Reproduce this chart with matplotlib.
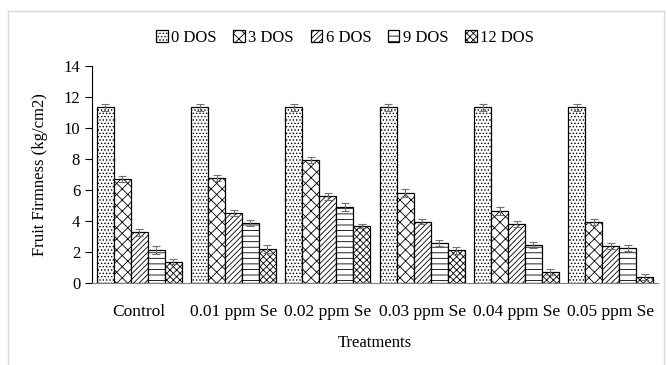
import matplotlib.pyplot as plt
import matplotlib.lines as mlines
import numpy as np

plt.rcParams['font.family'] = ['Liberation Serif', 'DejaVu Serif']
plt.rcParams['hatch.linewidth'] = 0.6

treatments = ['Control', '0.01 ppm Se', '0.02 ppm Se', '0.03 ppm Se', '0.04 ppm Se', '0.05 ppm Se']
series = ['0 DOS', '3 DOS', '6 DOS', '9 DOS', '12 DOS']

firmness = [
    [11.33, 11.33, 11.33, 11.33, 11.33, 11.33],   # 0 DOS
    [6.69, 6.75, 7.96, 5.81, 4.65, 3.92],         # 3 DOS
    [3.27, 4.50, 5.59, 3.96, 3.81, 2.39],         # 6 DOS
    [2.15, 3.89, 4.90, 2.60, 2.47, 2.24],         # 9 DOS
    [1.38, 2.17, 3.68, 2.10, 0.69, 0.37],         # 12 DOS
]
errors = [
    [0.22, 0.22, 0.22, 0.22, 0.22, 0.22],
    [0.20, 0.20, 0.20, 0.25, 0.25, 0.20],
    [0.22, 0.20, 0.22, 0.18, 0.20, 0.18],
    [0.25, 0.20, 0.28, 0.20, 0.18, 0.20],
    [0.18, 0.25, 0.15, 0.20, 0.20, 0.18],
]

hatches = ['.....', 'xxx', '//////', '---', 'xxxxx']

fig = plt.figure(figsize=(6.67, 3.65), dpi=100)
ax = fig.add_axes([92 / 667, 1 - 283 / 365, 566 / 667, 217 / 365])

x = np.arange(len(treatments))
w = 0.18
for i, s in enumerate(series):
    pos = x - 0.36 + i * w
    ax.bar(pos, firmness[i], width=w, color='white', edgecolor='black',
           hatch=hatches[i], linewidth=0.9, label=s)
    ax.errorbar(pos, firmness[i], yerr=errors[i], fmt='none', ecolor='#707070',
                elinewidth=0.8, capsize=3, capthick=0.8)

ax.set_xlim(-0.5, 5.5)
ax.set_ylim(0, 14)
ax.set_yticks(range(0, 15, 2))
ax.set_xticks(x)
ax.set_xticklabels(treatments, fontsize=12.5)
ax.tick_params(axis='x', length=0, pad=15)
ax.tick_params(axis='y', labelsize=12, length=5, direction='out')
ax.spines['top'].set_visible(False)
ax.spines['right'].set_visible(False)
ax.spines['bottom'].set_color('#808080')

ax.set_ylabel('Fruit Firmness (kg/cm2)', fontsize=12, labelpad=11)
ax.set_xlabel('Treatments', fontsize=12, labelpad=11)

ax.legend(loc='lower center', bbox_to_anchor=(0.447, 1.025), ncol=5, frameon=False,
          fontsize=12, handlelength=0.7, handleheight=0.7, handletextpad=0.2,
          columnspacing=1.0)

# light frame around the chart area
fig.add_artist(mlines.Line2D([8 / 667, 8 / 667], [0, 1 - 11 / 365], color='#d9d9d9', lw=1))
fig.add_artist(mlines.Line2D([8 / 667, 664 / 667], [1 - 11 / 365, 1 - 11 / 365], color='#d9d9d9', lw=1))
fig.add_artist(mlines.Line2D([664 / 667, 664 / 667], [0, 1 - 11 / 365], color='#d9d9d9', lw=1))

plt.savefig('out.png', dpi=100)
